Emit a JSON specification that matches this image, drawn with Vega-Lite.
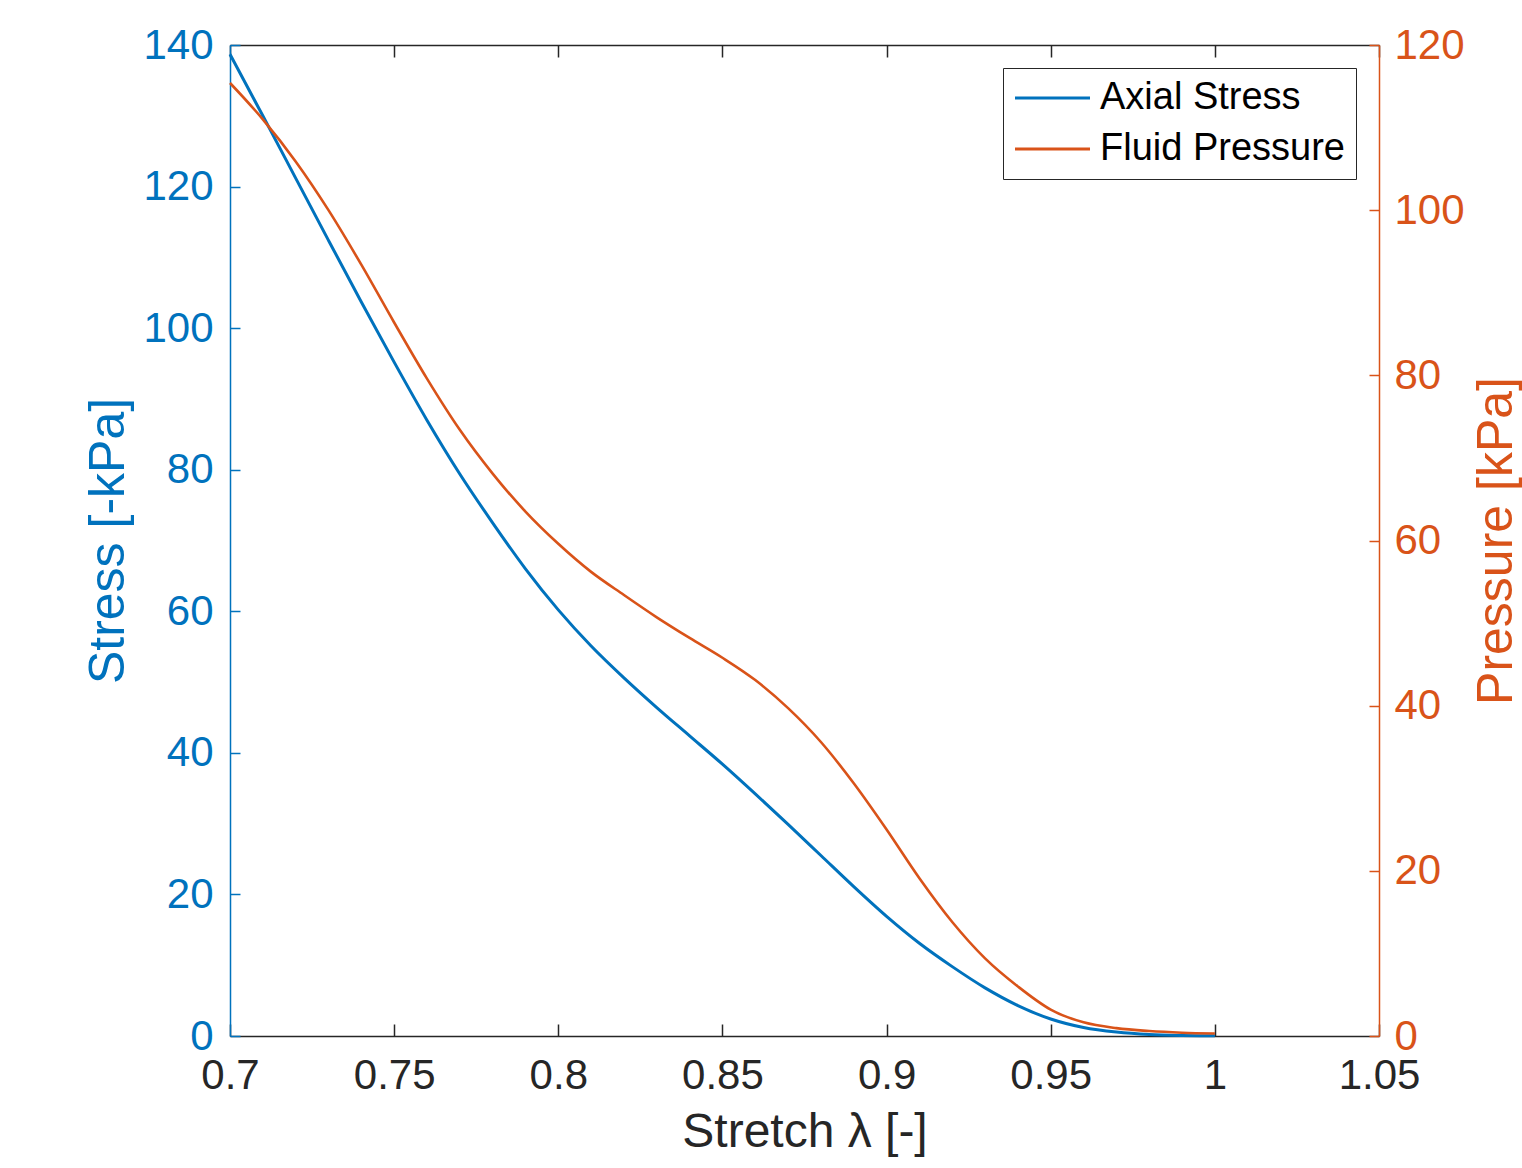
{
  "$schema": "https://vega.github.io/schema/vega-lite/v6.json",
  "width": 1149,
  "height": 991,
  "autosize": {"type": "none"},
  "padding": {"left": 230, "top": 45, "right": 143, "bottom": 132},
  "background": "white",
  "config": {
    "view": {"stroke": null},
    "font": "Liberation Sans",
    "axis": {"grid": false, "labelFont": "Liberation Sans", "titleFont": "Liberation Sans", "titleFontWeight": "normal", "labelFontSize": 42, "titleFontSize": 48, "labelFlush": false, "labelOverlap": false, "labelBound": false}
  },
  "datasets": {
    "stress": [
      {"stretch": 0.70, "stress": 138.7}, {"stretch": 0.71, "stress": 130.0}, {"stretch": 0.72, "stress": 121.2},
      {"stretch": 0.73, "stress": 112.4}, {"stretch": 0.74, "stress": 103.7}, {"stretch": 0.75, "stress": 95.2},
      {"stretch": 0.76, "stress": 87.0}, {"stretch": 0.77, "stress": 79.4}, {"stretch": 0.78, "stress": 72.5},
      {"stretch": 0.79, "stress": 66.0}, {"stretch": 0.80, "stress": 60.2}, {"stretch": 0.81, "stress": 55.1},
      {"stretch": 0.82, "stress": 50.6}, {"stretch": 0.83, "stress": 46.4}, {"stretch": 0.84, "stress": 42.4},
      {"stretch": 0.85, "stress": 38.4}, {"stretch": 0.86, "stress": 34.2}, {"stretch": 0.87, "stress": 29.9},
      {"stretch": 0.88, "stress": 25.5}, {"stretch": 0.89, "stress": 21.1}, {"stretch": 0.90, "stress": 16.9},
      {"stretch": 0.91, "stress": 13.1}, {"stretch": 0.92, "stress": 9.8}, {"stretch": 0.93, "stress": 6.8},
      {"stretch": 0.94, "stress": 4.3}, {"stretch": 0.95, "stress": 2.4}, {"stretch": 0.96, "stress": 1.2},
      {"stretch": 0.97, "stress": 0.55}, {"stretch": 0.98, "stress": 0.2}, {"stretch": 0.99, "stress": 0.07},
      {"stretch": 1.00, "stress": 0.03}
    ],
    "pressure": [
      {"stretch": 0.70, "pressure": 115.4}, {"stretch": 0.71, "pressure": 111.0}, {"stretch": 0.72, "pressure": 105.9},
      {"stretch": 0.73, "pressure": 100.0}, {"stretch": 0.74, "pressure": 93.4}, {"stretch": 0.75, "pressure": 86.4},
      {"stretch": 0.76, "pressure": 79.6}, {"stretch": 0.77, "pressure": 73.4}, {"stretch": 0.78, "pressure": 68.1},
      {"stretch": 0.79, "pressure": 63.5}, {"stretch": 0.80, "pressure": 59.6}, {"stretch": 0.81, "pressure": 56.2},
      {"stretch": 0.82, "pressure": 53.4}, {"stretch": 0.83, "pressure": 50.7}, {"stretch": 0.84, "pressure": 48.2},
      {"stretch": 0.85, "pressure": 45.8}, {"stretch": 0.86, "pressure": 43.1}, {"stretch": 0.87, "pressure": 39.7},
      {"stretch": 0.88, "pressure": 35.6}, {"stretch": 0.89, "pressure": 30.6}, {"stretch": 0.90, "pressure": 25.0},
      {"stretch": 0.91, "pressure": 19.1}, {"stretch": 0.92, "pressure": 13.8}, {"stretch": 0.93, "pressure": 9.4},
      {"stretch": 0.94, "pressure": 6.0}, {"stretch": 0.95, "pressure": 3.2}, {"stretch": 0.96, "pressure": 1.65},
      {"stretch": 0.97, "pressure": 0.95}, {"stretch": 0.98, "pressure": 0.6}, {"stretch": 0.99, "pressure": 0.4},
      {"stretch": 1.00, "pressure": 0.3}
    ]
  },
  "layer": [
    {
      "data": {"name": "stress"},
      "mark": {"type": "line", "strokeWidth": 3, "interpolate": "monotone"},
      "encoding": {
        "x": {
          "field": "stretch", "type": "quantitative",
          "scale": {"domain": [0.7, 1.05], "nice": false, "zero": false},
          "axis": {"orient": "bottom", "values": [0.7, 0.75, 0.8, 0.85, 0.9, 0.95, 1, 1.05], "format": "~g",
            "tickSize": -12, "labelPadding": 31, "tickColor": "#262626", "domainColor": "#262626", "tickWidth": 1.5, "domainWidth": 1.5,
            "labelColor": "#262626", "title": "Stretch λ [-]", "titleColor": "#262626", "titlePadding": 12}
        },
        "y": {
          "field": "stress", "type": "quantitative",
          "scale": {"domain": [0, 140], "nice": false},
          "axis": {"orient": "left", "values": [0, 20, 40, 60, 80, 100, 120, 140],
            "tickSize": -10, "labelPadding": 27, "tickColor": "#0072BD", "domainColor": "#0072BD", "tickWidth": 1.5, "domainWidth": 1.5,
            "labelColor": "#0072BD", "title": "Stress [-kPa]", "titleColor": "#0072BD", "titleFontSize": 50, "titlePadding": 9}
        },
        "color": {
          "datum": "Axial Stress", "type": "nominal",
          "scale": {"domain": ["Axial Stress", "Fluid Pressure"], "range": ["#0072BD", "#D95319"]},
          "legend": {"orient": "none", "legendX": 773, "legendY": 23, "title": null, "symbolType": "M-1.2,0H3.8", "symbolSize": 900,
            "symbolStrokeWidth": 3, "labelFontSize": 38, "labelFont": "Liberation Sans", "labelColor": "black", "labelOffset": 48, "labelLimit": 0,
            "rowPadding": 13, "padding": 11, "strokeColor": "#262626", "fillColor": "white", "cornerRadius": 0}
        }
      }
    },
    {
      "data": {"name": "pressure"},
      "mark": {"type": "line", "strokeWidth": 2.6, "interpolate": "monotone"},
      "encoding": {
        "x": {
          "field": "stretch", "type": "quantitative",
          "scale": {"domain": [0.7, 1.05], "nice": false, "zero": false},
          "axis": {"orient": "top", "values": [0.7, 0.75, 0.8, 0.85, 0.9, 0.95, 1, 1.05], "labels": false, "title": null,
            "tickSize": -12, "tickColor": "#262626", "domainColor": "#262626", "tickWidth": 1.5, "domainWidth": 1.5}
        },
        "y": {
          "field": "pressure", "type": "quantitative",
          "scale": {"domain": [0, 120], "nice": false},
          "axis": {"orient": "right", "values": [0, 20, 40, 60, 80, 100, 120],
            "tickSize": -10, "labelPadding": 25, "tickColor": "#D95319", "domainColor": "#D95319", "tickWidth": 1.5, "domainWidth": 1.5,
            "labelColor": "#D95319", "title": "Pressure [kPa]", "titleColor": "#D95319", "titleFontSize": 50, "titlePadding": 7, "titleAngle": 270, "titleBaseline": "top"}
        },
        "color": {"datum": "Fluid Pressure", "type": "nominal"}
      }
    }
  ],
  "resolve": {"scale": {"y": "independent"}, "axis": {"x": "independent", "y": "independent"}}
}
